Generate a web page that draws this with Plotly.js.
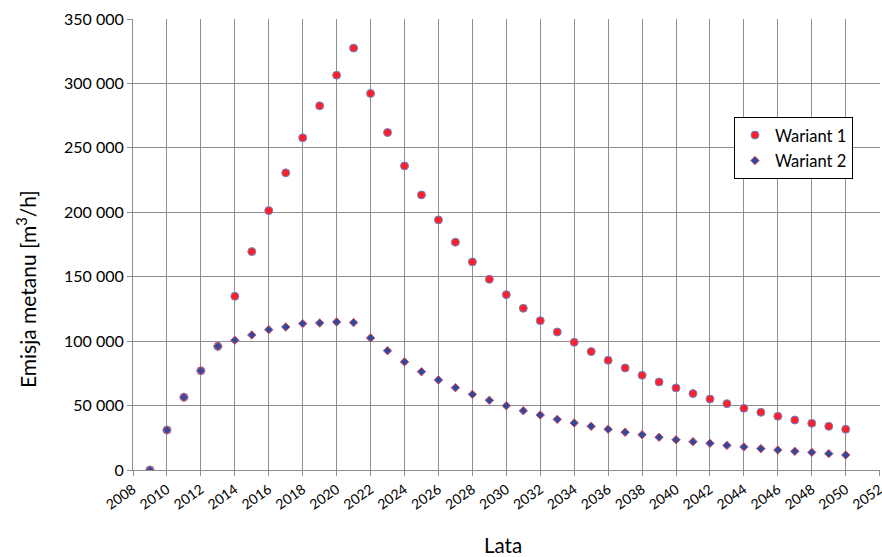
<!DOCTYPE html>
<html>
<head>
<meta charset="utf-8">
<script src="https://cdn.plot.ly/plotly-3.0.1.min.js"></script>
<style>html,body{margin:0;padding:0;background:#fff;}#chart{width:882px;height:557px;}</style>
</head>
<body>
<div id="chart"></div>
<script>
const years = [2009,2010,2011,2012,2013,2014,2015,2016,2017,2018,2019,2020,2021,2022,2023,2024,2025,2026,2027,2028,2029,2030,2031,2032,2033,2034,2035,2036,2037,2038,2039,2040,2041,2042,2043,2044,2045,2046,2047,2048,2049,2050];
const wariant1 = [0,31000,56500,77000,96000,134800,169500,201300,230600,257800,282600,306400,327400,292200,261900,236000,213500,194100,176800,161500,148000,136100,125500,115900,107100,99100,91900,85100,79200,73500,68300,63700,59300,55100,51500,47900,44800,41700,38800,36200,33900,31600];
const wariant2 = [0,31000,56500,77000,96000,100700,104800,108900,111000,113600,114100,114900,114400,102500,92600,83900,76300,69900,63900,58700,54100,49900,46000,42700,39300,36500,33900,31600,29300,27400,25400,23500,22000,20700,19100,17900,16600,15500,14500,13700,12700,11600];
const xTickVals = [2008,2010,2012,2014,2016,2018,2020,2022,2024,2026,2028,2030,2032,2034,2036,2038,2040,2042,2044,2046,2048,2050,2052];
const seriesNames = ["Wariant 1","Wariant 2"];
const xTitle = "Lata";
const yTitle = "Emisja metanu [m<sup>3</sup>/h]";

const font = "Lato, 'Open Sans', sans-serif";
const traces = [
  {x: years, y: wariant1, name: seriesNames[0], type: "scatter", mode: "markers", legendgroup: "a",
   marker: {symbol: "circle", size: 8, color: "#ff1f2a", line: {color: "#6a8ccc", width: 1}}},
  {x: years, y: wariant2, name: seriesNames[1], type: "scatter", mode: "markers", legendgroup: "b",
   marker: {symbol: "diamond", size: 6.5, color: "#2e4a9e", line: {color: "#e0505a", width: 1}}}
];
const layout = {
  width: 882, height: 557,
  margin: {l: 133, r: 2, t: 19, b: 87},
  paper_bgcolor: "#fff", plot_bgcolor: "#fff",
  separators: ", ",
  font: {family: font, size: 13, color: "#000"},
  showlegend: true,
  legend: {x: 0.8045, y: 0.783, xanchor: "left", yanchor: "top", bgcolor: "#fff",
    bordercolor: "#000", borderwidth: 1, font: {family: font, size: 16.5, color: "#000"},
    tracegroupgap: 1},
  xaxis: {range: [2008, 2052.02], tickmode: "array", tickvals: xTickVals, tickangle: -35,
    ticklabeloverflow: "allow",
    showgrid: true, gridcolor: "#8f8f8f", gridwidth: 1, zeroline: false,
    showline: true, linecolor: "#8f8f8f", linewidth: 1,
    ticks: "outside", ticklen: 5, tickcolor: "#8f8f8f",
    tickfont: {family: font, size: 14, color: "#000"}},
  yaxis: {range: [0, 350000], dtick: 50000, tickformat: ",d",
    showgrid: true, gridcolor: "#8f8f8f", gridwidth: 1, zeroline: false,
    showline: true, linecolor: "#8f8f8f", linewidth: 1,
    ticks: "outside", ticklen: 5, tickcolor: "#8f8f8f",
    tickfont: {family: font, size: 16, color: "#000"}},
  annotations: [
    {text: xTitle, xref: "paper", yref: "paper", x: 0.4953, y: -0.1663, xanchor: "center", yanchor: "middle",
     showarrow: false, font: {family: font, size: 20.5, color: "#000"}},
    {text: yTitle, xref: "paper", yref: "paper", x: -0.1432, y: 0.4013, xanchor: "center", yanchor: "middle",
     textangle: -90, showarrow: false, font: {family: font, size: 21, color: "#000"}}
  ]
};
Plotly.newPlot("chart", traces, layout, {displayModeBar: false, staticPlot: true});
</script>
</body>
</html>
